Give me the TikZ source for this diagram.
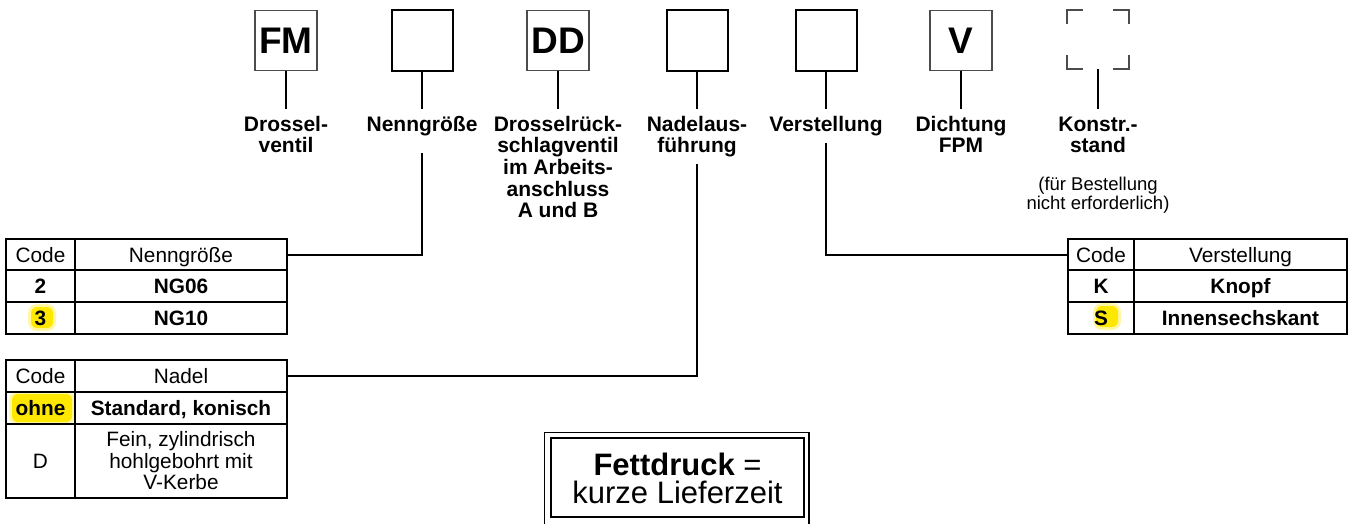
\documentclass[tikz,border=0pt]{standalone}
\usepackage{fontspec}
\setmainfont{Liberation Sans}
\newcommand\lblfont{\fontsize{21}{21.7}\selectfont\bfseries}
\newcommand\tabfont{\fontsize{20.8}{21.5}\selectfont}
\definecolor{hlyellow}{RGB}{255,232,0}
\begin{document}
\begin{tikzpicture}[x=1pt,y=-1pt,
  codebox/.style={draw=black!70, line width=1.3pt, minimum width=62pt, minimum height=60pt, inner sep=0pt, font=\fontsize{37}{37}\selectfont\bfseries},
  emptybox/.style={draw=black, line width=2pt, minimum width=61pt, minimum height=61pt, inner sep=0pt},
  dashbox/.style={minimum width=62pt, minimum height=59pt, inner sep=0pt},
  corner/.style={draw=black!70, line width=1.5pt},
  lbl/.style={font=\lblfont, align=center, anchor=base, inner xsep=0pt, inner ysep=7pt},
  sublbl/.style={font=\fontsize{18.5}{19}\selectfont, align=center, anchor=base, inner sep=0pt},
  cell/.style={draw=black, line width=2pt, inner sep=0pt, font=\tabfont, align=center},
  one/.style={text height=15pt, text depth=0pt},
  conn/.style={line width=2pt, draw=black},
  hlsoft/.style={fill=hlyellow, opacity=0.35, rounded corners=9pt},
  hlcore/.style={fill=hlyellow, rounded corners=6pt},
  frame/.style={draw=black, line width=1.5pt},
]
\clip (0,0) rectangle (1359,523);
\fill[white] (0,0) rectangle (1359,523);

% ---------- top code boxes ----------
\node[codebox]  (bFM)  at (286,40.5) {FM};
\node[emptybox] (bNenn) at (422,40.5) {};
\node[codebox]  (bDD)  at (558,40.5) {DD};
\node[emptybox] (bNadel) at (697,40.5) {};
\node[emptybox] (bVerst) at (826,40.5) {};
\node[codebox]  (bV)   at (961,40.5) {V};
\node[dashbox]  (bK)   at (1098,39.5) {};
\draw[corner] ([yshift=-14pt]bK.north west) -- (bK.north west) -- ([xshift=16pt]bK.north west);
\draw[corner] ([yshift=-14pt]bK.north east) -- (bK.north east) -- ([xshift=-16pt]bK.north east);
\draw[corner] ([yshift=14pt]bK.south west) -- (bK.south west) -- ([xshift=16pt]bK.south west);
\draw[corner] ([yshift=14pt]bK.south east) -- (bK.south east) -- ([xshift=-16pt]bK.south east);

% ---------- labels (anchor = baseline of the last line) ----------
\node[lbl] (lFM)    at (286,152.7)  {Drossel-\\ventil};
\node[lbl] (lNenn)  at (422,131)    {Nenngröße};
\node[lbl] (lDD)    at (558,217.8)  {Drosselrück-\\schlagventil\\im Arbeits-\\anschluss\\A und B};
\node[lbl] (lNadel) at (697,152.7)  {Nadelaus-\\führung};
\node[lbl] (lVerst) at (826,131)    {Verstellung};
\node[lbl] (lV)     at (961,152.7)  {Dichtung\\FPM};
\node[lbl] (lK)     at (1098,152.7) {Konstr.-\\stand};
\node[sublbl] (lKsub) at (1098,209) {(für Bestellung\\nicht erforderlich)};

\draw[conn] (bFM.south) -- (lFM.north);
\draw[conn] (bNenn.south) -- (lNenn.north);
\draw[conn] (bDD.south) -- (lDD.north);
\draw[conn] (bNadel.south) -- (lNadel.north);
\draw[conn] (bVerst.south) -- (lVerst.north);
\draw[conn] (bV.south) -- (lV.north);
\draw[conn] (bK.south) -- (lK.north);

% ---------- highlights ----------
\fill[hlsoft] (28,304) rectangle (56,331);
\fill[hlcore] (31,307) rectangle (53,328);
\fill[hlsoft] (9,391) rectangle (75,425);
\fill[hlcore] (12,394) rectangle (72,422);
\fill[hlsoft] (1093,303) rectangle (1121,330);
\fill[hlcore] (1096,306) rectangle (1118,327);

% ---------- table Nenngroesse ----------
\node[cell, one, minimum width=69pt,  minimum height=31pt] (t1c0) at (40.5,254.5) {Code};
\node[cell, one, minimum width=212pt, minimum height=31pt] (t1n0) at (181,254.5)  {Nenngröße};
\node[cell, one, minimum width=69pt,  minimum height=32pt] (t1c1) at (40.5,286)   {\bfseries 2};
\node[cell, one, minimum width=212pt, minimum height=32pt] (t1n1) at (181,286)    {\bfseries NG06};
\node[cell, one, minimum width=69pt,  minimum height=32pt] (t1c2) at (40.5,318)   {\bfseries 3};
\node[cell, one, minimum width=212pt, minimum height=32pt] (t1n2) at (181,318)    {\bfseries NG10};

% ---------- table Nadel ----------
\node[cell, one, minimum width=69pt,  minimum height=32pt] (t2c0) at (40.5,376) {Code};
\node[cell, one, minimum width=212pt, minimum height=32pt] (t2n0) at (181,376)  {Nadel};
\node[cell, one, minimum width=69pt,  minimum height=32pt] (t2c1) at (40.5,408) {\bfseries ohne};
\node[cell, one, minimum width=212pt, minimum height=32pt] (t2n1) at (181,408)  {\bfseries Standard, konisch};
\node[cell, one, minimum width=69pt,  minimum height=74pt] (t2c2) at (40.5,461) {D};
\node[cell, minimum width=212pt, minimum height=74pt] (t2n2) at (181,461)  {Fein, zylindrisch\\hohlgebohrt mit\\V-Kerbe};

% ---------- table Verstellung ----------
\node[cell, one, minimum width=66pt,  minimum height=31pt] (t3c0) at (1101,254.5) {Code};
\node[cell, one, minimum width=213pt, minimum height=31pt] (t3n0) at (1240.5,254.5) {Verstellung};
\node[cell, one, minimum width=66pt,  minimum height=32pt] (t3c1) at (1101,286) {\bfseries K};
\node[cell, one, minimum width=213pt, minimum height=32pt] (t3n1) at (1240.5,286) {\bfseries Knopf};
\node[cell, one, minimum width=66pt,  minimum height=32pt] (t3c2) at (1101,318) {\bfseries S};
\node[cell, one, minimum width=213pt, minimum height=32pt] (t3n2) at (1240.5,318) {\bfseries Innensechskant};

% ---------- connectors to tables ----------
\draw[conn] (t1n0.east) -| ([yshift=-10pt]lNenn.south);
\draw[conn] (t2n0.east) -| (lNadel.south);
\draw[conn] (t3c0.west) -| (lVerst.south);

% ---------- legend ----------
\node[frame, minimum width=253pt, minimum height=79pt, inner sep=0pt] (legend) at (677.5,477.5) {};
\draw[frame] ([xshift=-6pt,yshift=5pt]legend.north west) rectangle ([xshift=4pt,yshift=-30pt]legend.south east);
\node[font=\fontsize{31}{28}\selectfont, align=center, anchor=base, inner sep=0pt] (legtext) at (677.5,503) {\textbf{Fettdruck} =\\kurze Lieferzeit};
\end{tikzpicture}
\end{document}
